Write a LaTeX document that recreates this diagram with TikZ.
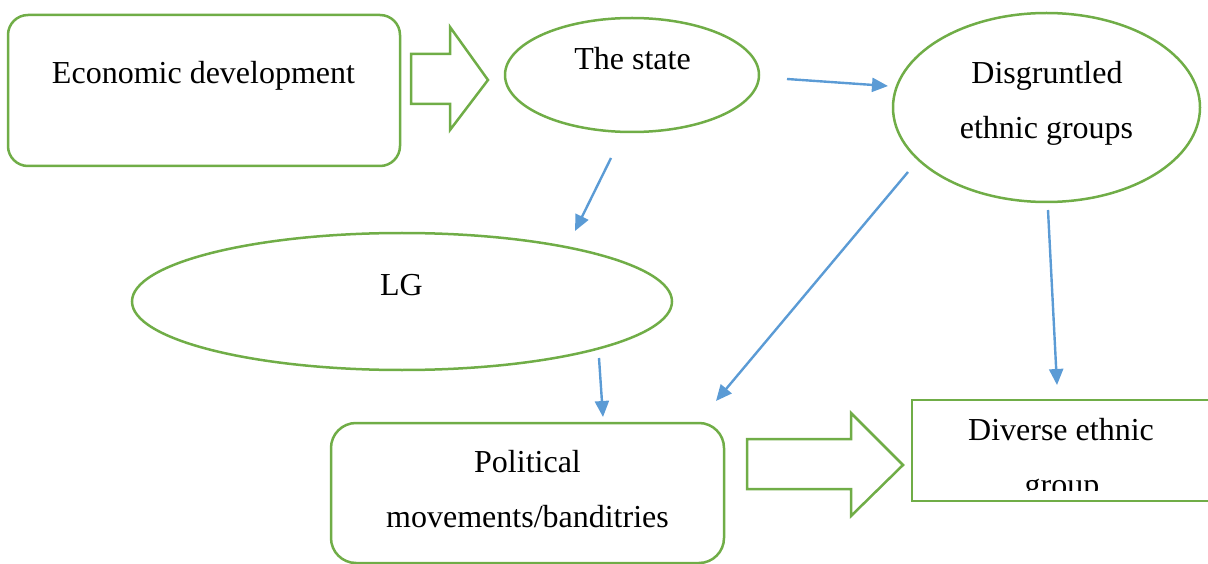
\documentclass[tikz,border=0pt]{standalone}
\usepackage{fontspec}
\setmainfont{Liberation Serif}
\usetikzlibrary{arrows.meta,shapes.geometric}
\definecolor{frame}{HTML}{70AD47}
\definecolor{link}{HTML}{5B9BD5}
\tikzset{
  shapeline/.style={draw=frame, line width=2.5pt},
  roundbox/.style={shapeline, rounded corners=#1, inner sep=0pt},
  oval/.style={shapeline, ellipse, inner sep=0pt},
  label/.style={inner sep=0pt, anchor=base, font=\fontsize{32}{38}\selectfont},
  flow/.style={draw=link, line width=2.4pt, -{Triangle[length=16pt,width=14pt]}},
  blockarrow/.style={shapeline, line join=miter}
}
\begin{document}
\begin{tikzpicture}[x=1pt,y=-1pt]
\useasboundingbox (0,0) rectangle (1208,564);

% shapes
\node[roundbox=20pt, minimum width=392pt, minimum height=151pt] (econ) at (204,90.5) {};
\node[oval, minimum width=254pt, minimum height=114pt] (state) at (632,75) {};
\node[oval, minimum width=307pt, minimum height=189pt] (disg) at (1046.5,107.5) {};
\node[oval, minimum width=540pt, minimum height=137pt] (lg) at (402,301.5) {};
\node[roundbox=25pt, minimum width=393pt, minimum height=140pt] (pol) at (527.5,493) {};
\draw[shapeline] (1214,400) -- (912,400) -- (912,501) -- (1214,501);
\coordinate (dvl) at (912,400);

% block arrows
\draw[blockarrow] (411,54) -- (450,54) -- (450,27) -- (488,80) -- (450,130) -- (450,104) -- (411,104) -- cycle;
\draw[blockarrow] (747,439) -- (851,439) -- (851,413) -- (903,465) -- (851,516) -- (851,489) -- (747,489) -- cycle;

% labels
\node[label] (econT) at (203.5,84) {Economic development};
\node[label] (stateT) at (632.5,70) {The state};
\node[label] (disgT1) at (1047,84) {Disgruntled};
\node[label] (disgT2) at (1046.5,139) {ethnic groups};
\node[label] (lgT) at (401.5,295) {LG};
\node[label] (polT1) at (527.5,472) {Political};
\node[label] (polT2) at (527.5,527) {movements/banditries};
\node[label] (divT1) at (1061,440) {Diverse ethnic};
\begin{scope}
  \clip (912,400) rectangle (1208,490);
  \node[label] (divT2) at (1062,495) {group};
\end{scope}

% connector ends
\coordinate (a1s) at (787,79);   \coordinate (a1e) at (888,86);
\coordinate (a2s) at (611,158);  \coordinate (a2e) at (575,231);
\coordinate (a3s) at (908,172);  \coordinate (a3e) at (716,401);
\coordinate (a4s) at (1048,210); \coordinate (a4e) at (1057,385);
\coordinate (a5s) at (599,358);  \coordinate (a5e) at (603,417);

\draw[flow] (a1s) -- (a1e);
\draw[flow] (a2s) -- (a2e);
\draw[flow] (a3s) -- (a3e);
\draw[flow] (a4s) -- (a4e);
\draw[flow] (a5s) -- (a5e);
\end{tikzpicture}
\end{document}
